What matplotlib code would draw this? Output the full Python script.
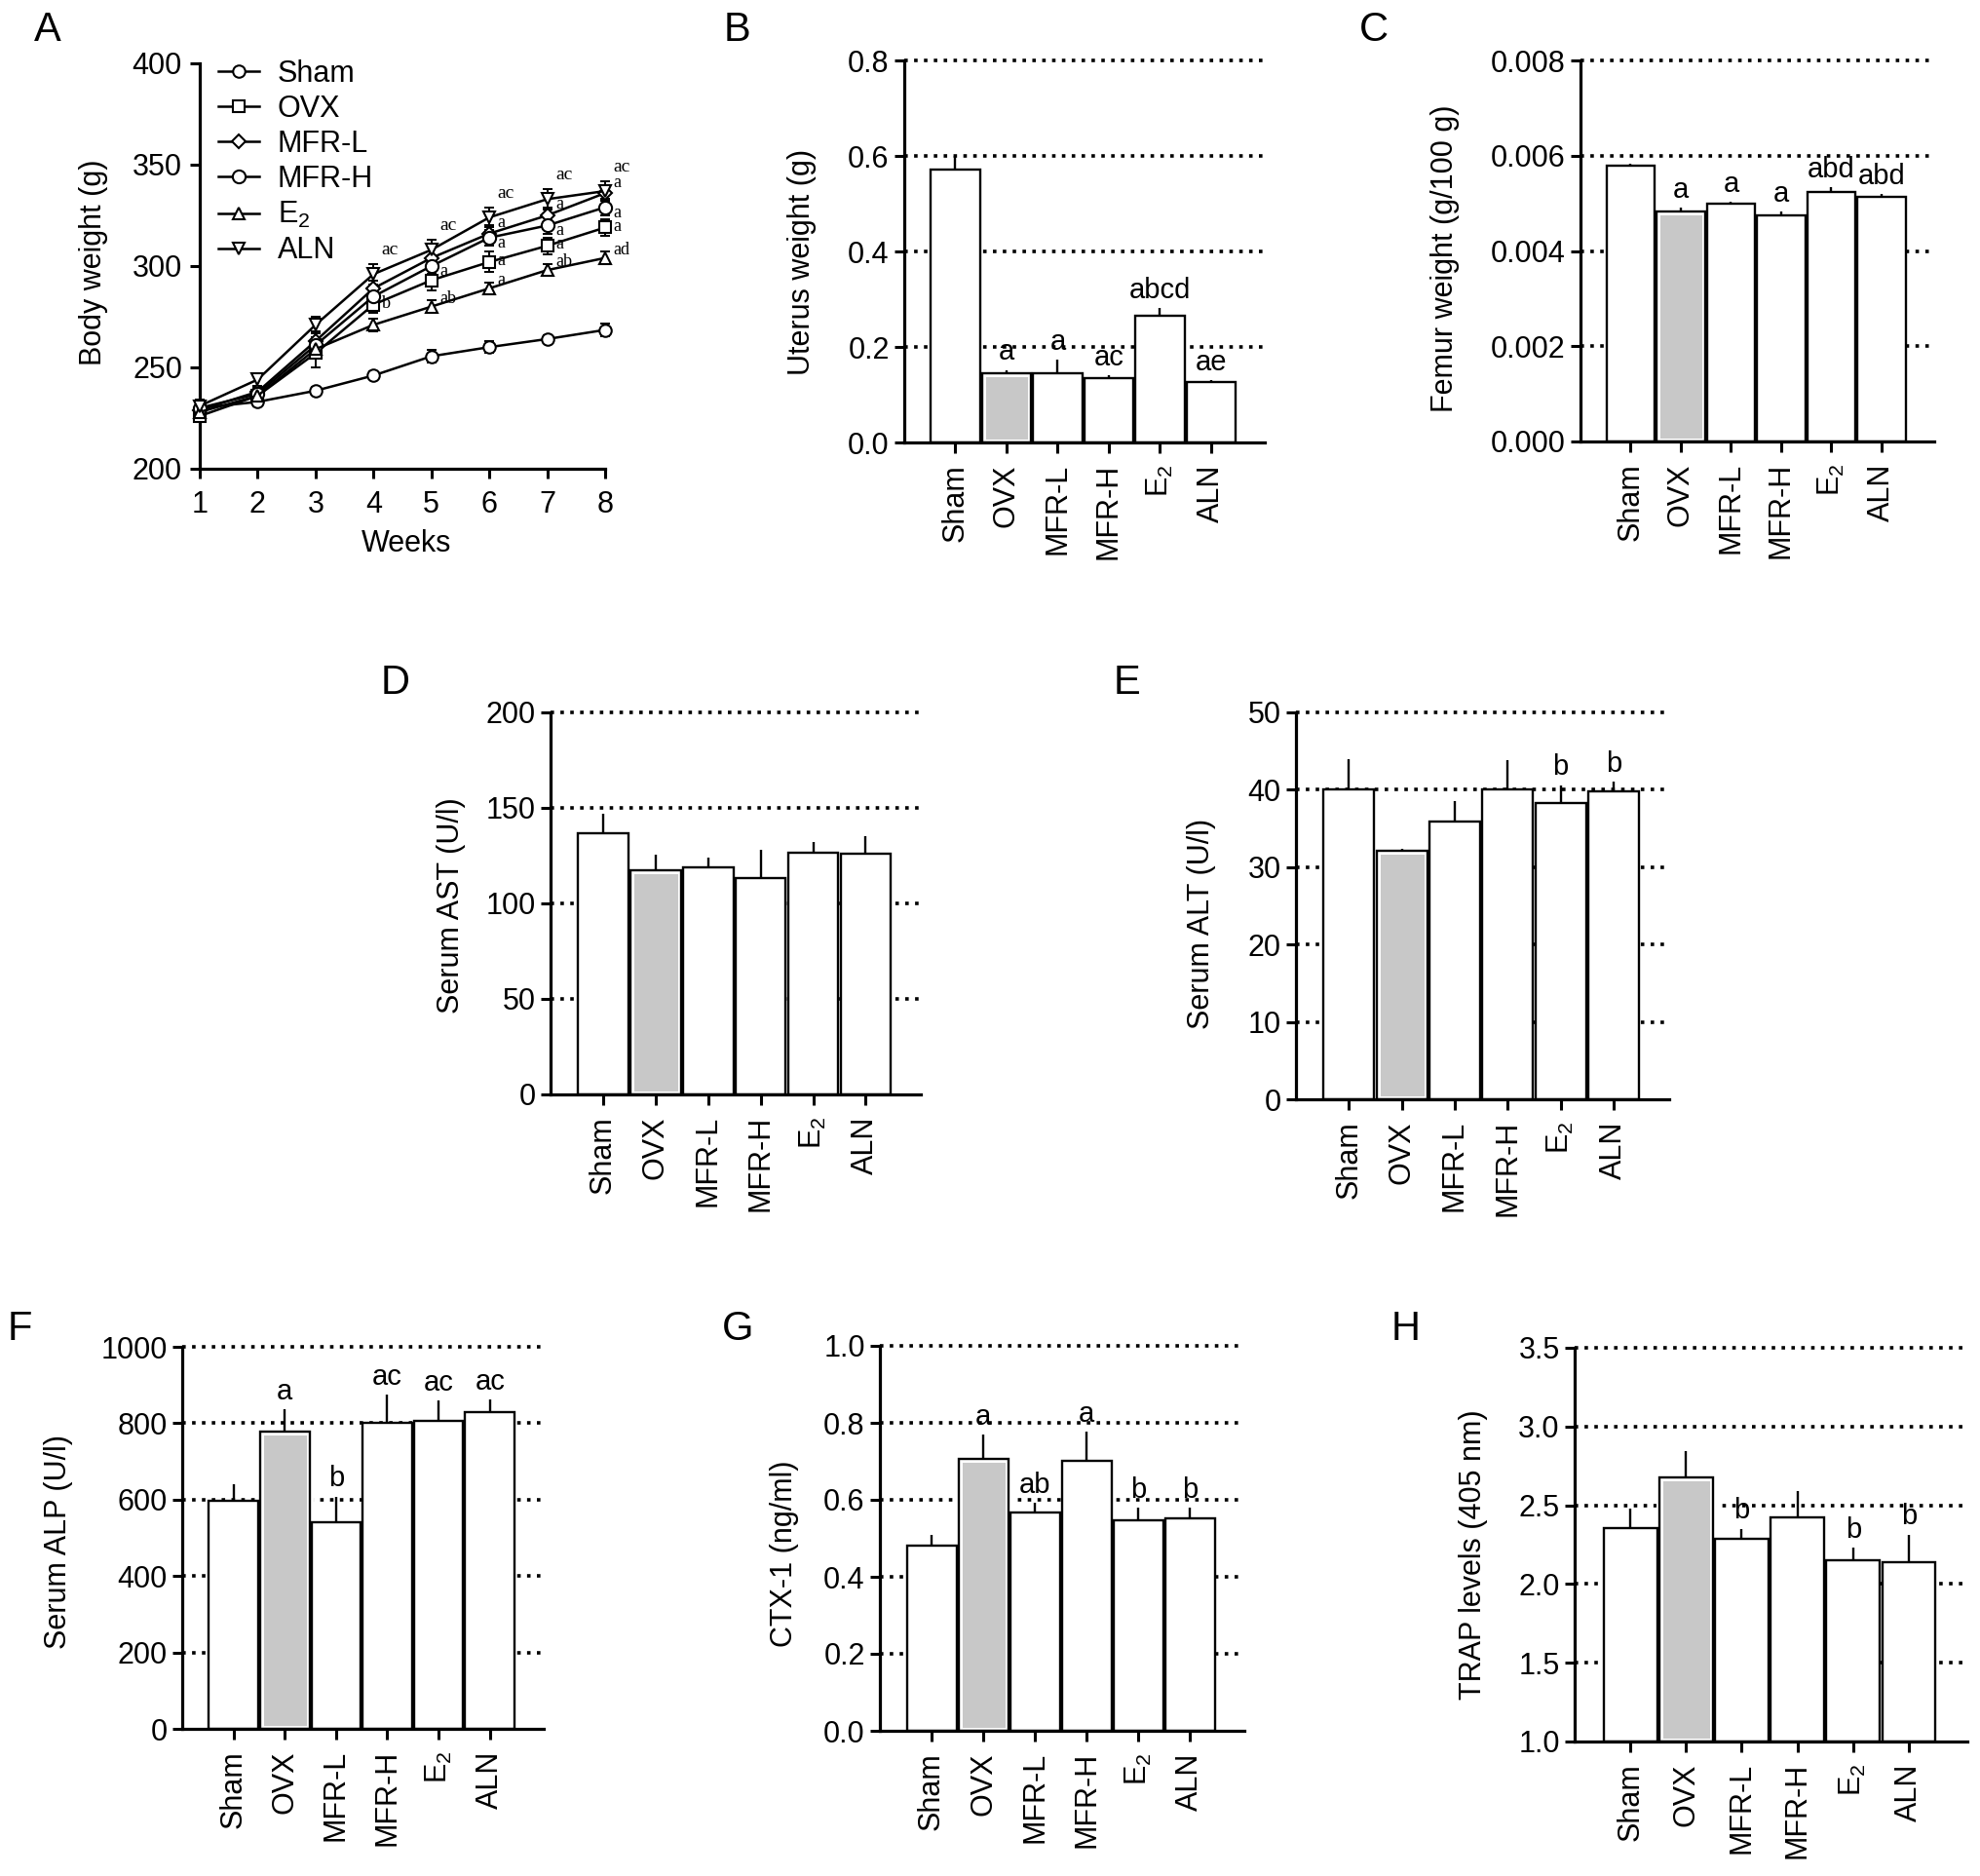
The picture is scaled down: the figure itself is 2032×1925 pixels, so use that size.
import numpy as np
import matplotlib
matplotlib.use('Agg')
import matplotlib.pyplot as plt
from matplotlib.lines import Line2D

plt.rcParams['font.family'] = ['Liberation Sans', 'DejaVu Sans']
plt.rcParams['mathtext.fontset'] = 'custom'
plt.rcParams['mathtext.rm'] = 'Liberation Sans'

# ---- data ----
groups = ['Sham', 'OVX', 'MFR-L', 'MFR-H', 'E$_\\mathregular{2}$', 'ALN']

weeks = [1, 2, 3, 4, 5, 6, 7, 8]
bw_sham = [230, 233, 238.5, 246, 255.5, 260, 264, 268.5]
bw_ovx = [226, 236, 257, 281, 293, 302, 310, 319]
bw_mfrl = [229, 238, 263, 289, 304, 316, 325, 336]
bw_mfrh = [230, 237, 261, 285, 300, 314, 320, 329]
bw_e2 = [228, 236, 259, 271, 280, 289, 298, 304]
bw_aln = [231, 244, 271, 296, 308, 324, 333, 337]
bw_sham_err = [2, 2, 2, 2, 3, 3, 2, 3]
bw_ovx_err = [3, 3, 7, 4, 5, 5, 4, 4]
bw_mfrl_err = [3, 3, 5, 4, 5, 4, 4, 4]
bw_mfrh_err = [3, 3, 4, 4, 4, 4, 4, 4]
bw_e2_err = [3, 3, 4, 3, 3, 3, 3, 3]
bw_aln_err = [3, 3, 4, 5, 5, 5, 5, 5]
sig_aln = ['', '', '', 'ac', 'ac', 'ac', 'ac', 'ac']
sig_mfrl = ['', '', '', '', '', 'a', 'a', 'a']
sig_mfrh = ['', '', '', '', 'a', 'a', 'a', 'a']
sig_ovx = ['', '', '', 'b', '', 'a', 'a', 'a']
sig_e2 = ['', '', '', '', 'ab', 'a', 'ab', 'ad']

uterus = [0.572, 0.144, 0.145, 0.135, 0.265, 0.126]
uterus_err = [0.027, 0.008, 0.029, 0.006, 0.016, 0.004]
uterus_sig = ['', 'a', 'a', 'ac', 'abcd', 'ae']

femur = [0.0058, 0.00483, 0.00499, 0.00474, 0.00523, 0.00514]
femur_err = [0.00004, 0.00008, 0.00004, 0.00009, 0.0001, 0.00005]
femur_sig = ['', 'a', 'a', 'a', 'abd', 'abd']

ast = [136.8, 117.5, 118.9, 113.1, 126.6, 126.0]
ast_err = [10, 8, 5, 15, 5.7, 9]
ast_sig = ['', '', '', '', '', '']

alt = [40.0, 32.1, 35.9, 40.05, 38.3, 39.8]
alt_err = [4, 0.3, 2.7, 3.8, 2.3, 1.2]
alt_sig = ['', '', '', '', 'b', 'b']

alp = [596, 777, 542, 802, 805, 829]
alp_err = [45, 59, 66, 72, 54, 33]
alp_sig = ['', 'a', 'b', 'ac', 'ac', 'ac']

ctx = [0.480, 0.707, 0.567, 0.702, 0.548, 0.551]
ctx_err = [0.029, 0.063, 0.025, 0.075, 0.032, 0.029]
ctx_sig = ['', 'a', 'ab', 'a', 'b', 'b']

trap = [2.357, 2.674, 2.290, 2.421, 2.148, 2.136]
trap_err = [0.124, 0.169, 0.062, 0.171, 0.085, 0.178]
trap_sig = ['', '', 'b', '', 'b', 'b']

# ---- figure ----
W, H = 2032, 1925
fig = plt.figure(figsize=(W / 100, H / 100), dpi=100)
FS = 22
SERIF = ['Liberation Serif', 'DejaVu Serif']


def add_ax(l, r, t, b):
    return fig.add_axes([l / W, 1 - b / H, (r - l) / W, (b - t) / H])


def ylabel_at(ax, text, x_px, frac):
    l = ax.get_position().x0 * W
    w = ax.get_position().width * W
    ax.set_ylabel(text, fontsize=FS, va='center')
    ax.yaxis.set_label_coords((x_px - l) / w, frac)


def style(ax):
    for s in ['top', 'right']:
        ax.spines[s].set_visible(False)
    for s in ['left', 'bottom']:
        ax.spines[s].set_linewidth(2.3)
    ax.tick_params(axis='y', direction='out', length=7, width=2.2, labelsize=FS, pad=4)


def bar_panel(ax, vals, errs, sig, ylim, step, fmt, ylabel, lab_x, lab_frac):
    style(ax)
    x = np.arange(len(groups))
    base = ylim[0]
    h = np.array(vals) - base
    ax.bar(x, h, bottom=base, width=0.96, color='white', edgecolor='none', zorder=1.5)
    ax.bar(x[1], h[1], bottom=base, width=0.96, color='#c8c8c8', edgecolor='white',
           linewidth=5, zorder=1.6)
    ax.bar(x, h, bottom=base, width=0.96, fill=False, edgecolor='black',
           linewidth=1.7, zorder=1.7)
    ax.errorbar(x, vals, yerr=[np.zeros(len(vals)), errs], fmt='none', ecolor='black',
                elinewidth=1.7, capsize=0, zorder=1.8)
    for xi, v, e, s in zip(x, vals, errs, sig):
        if s:
            ax.annotate(s, (xi, v + e), xytext=(0, 3), textcoords='offset points',
                        ha='center', va='bottom', fontsize=21)
    ax.set_xlim(-1.0, 6.05)
    ax.set_ylim(*ylim)
    ticks = np.arange(ylim[0], ylim[1] + step / 2, step)
    ax.set_yticks(ticks)
    ax.set_yticklabels([fmt.format(t) for t in ticks])
    # dotted gridlines behind the bars, none on the baseline
    for t in ticks[1:]:
        ax.axhline(t, color='black', linewidth=2.6, linestyle=(0, (1, 1.8)),
                   zorder=0.5, clip_on=False)
    ax.set_xticks(x)
    ax.set_xticklabels(groups, rotation=90, fontsize=FS)
    ax.tick_params(axis='x', direction='out', length=8, width=2.2, pad=8)
    ylabel_at(ax, ylabel, lab_x, lab_frac)


# ---- A ----
axA = add_ax(205, 621, 65, 481)
style(axA)
# name, values, errors, marker, size, labels, label offset (pt)
series = [
    ('Sham', bw_sham, bw_sham_err, 'o', 9, None, 0),
    ('OVX', bw_ovx, bw_ovx_err, 's', 8, sig_ovx, 1),
    ('MFR-L', bw_mfrl, bw_mfrl_err, 'D', 7.5, sig_mfrl, 8),
    ('MFR-H', bw_mfrh, bw_mfrh_err, 'o', 9.5, sig_mfrh, -4),
    ('E$_\\mathregular{2}$', bw_e2, bw_e2_err, '^', 9, sig_e2, 6),
    ('ALN', bw_aln, bw_aln_err, 'v', 9, None, 0),
]
handles = []
for name, vals, errs, mk, ms, sg, dy in series:
    axA.errorbar(weeks, vals, yerr=errs, fmt='none', ecolor='black', elinewidth=1.4,
                 capsize=3.5, capthick=1.4, clip_on=False, zorder=2)
    axA.plot(weeks, vals, '-', color='black', lw=1.8, marker=mk, ms=ms, mfc='white',
             mec='black', mew=1.5, clip_on=False, zorder=3)
    handles.append(Line2D([], [], color='black', lw=1.8, marker=mk, ms=ms, mfc='white',
                          mec='black', mew=1.5))
    if sg:
        for wk, v, s in zip(weeks, vals, sg):
            if s:
                axA.annotate(s, (wk, v), xytext=(6, dy), textcoords='offset points',
                             ha='left', va='center', fontsize=13, family=SERIF)
for wk, v, e, s in zip(weeks, bw_aln, bw_aln_err, sig_aln):
    if s:
        axA.annotate(s, (wk, v + e), xytext=(6, 4), textcoords='offset points',
                     ha='left', va='bottom', fontsize=14, family=SERIF)
axA.set_xlim(1, 8)
axA.set_ylim(200, 400)
axA.set_xticks(weeks)
axA.set_yticks([200, 250, 300, 350, 400])
axA.tick_params(axis='x', direction='out', length=7, width=2.2, labelsize=FS, pad=9)
axA.tick_params(axis='y', pad=6)
axA.set_xlabel('Weeks', fontsize=FS, va='center')
axA.xaxis.set_label_coords(0.51, -0.185)
ylabel_at(axA, 'Body weight (g)', 96, 0.51)
axA.legend(handles, [s[0] for s in series], loc='upper left',
           bbox_to_anchor=(0.045, 1.01), frameon=False, fontsize=FS,
           handlelength=1.4, handletextpad=0.6, labelspacing=0.2,
           borderpad=0, borderaxespad=0)

# ---- bar panels ----
axB = add_ax(928, 1298, 62, 454)
bar_panel(axB, uterus, uterus_err, uterus_sig, (0, 0.8), 0.2, '{:.1f}',
          'Uterus weight (g)', 823, 0.472)

axC = add_ax(1622, 1985, 62, 453)
bar_panel(axC, femur, femur_err, femur_sig, (0, 0.008), 0.002, '{:.3f}',
          'Femur weight (g/100 g)', 1483, 0.48)

axD = add_ax(565, 945, 731, 1123)
bar_panel(axD, ast, ast_err, ast_sig, (0, 200), 50, '{:.0f}',
          'Serum AST (U/l)', 463, 0.495)

axE = add_ax(1330, 1713, 731, 1128)
bar_panel(axE, alt, alt_err, alt_sig, (0, 50), 10, '{:.0f}',
          'Serum ALT (U/l)', 1233, 0.453)

axF = add_ax(187, 558, 1382, 1774)
bar_panel(axF, alp, alp_err, alp_sig, (0, 1000), 200, '{:.0f}',
          'Serum ALP (U/l)', 60, 0.49)

axG = add_ax(903, 1277, 1381, 1776)
bar_panel(axG, ctx, ctx_err, ctx_sig, (0, 1.0), 0.2, '{:.1f}',
          'CTX-1 (ng/ml)', 805, 0.46)

axH = add_ax(1616, 2019, 1383, 1787)
bar_panel(axH, trap, trap_err, trap_sig, (1.0, 3.5), 0.5, '{:.1f}',
          'TRAP levels (405 nm)', 1512, 0.475)

# ---- panel letters ----
letters = [('A', 49, 31), ('B', 756, 31), ('C', 1410, 31), ('D', 406, 701),
           ('E', 1156, 701), ('F', 20, 1364), ('G', 757, 1364), ('H', 1443, 1364)]
for t, x, y in letters:
    fig.text(x / W, 1 - y / H, t, fontsize=30, ha='center', va='center')

fig.savefig('out.png', dpi=100)
